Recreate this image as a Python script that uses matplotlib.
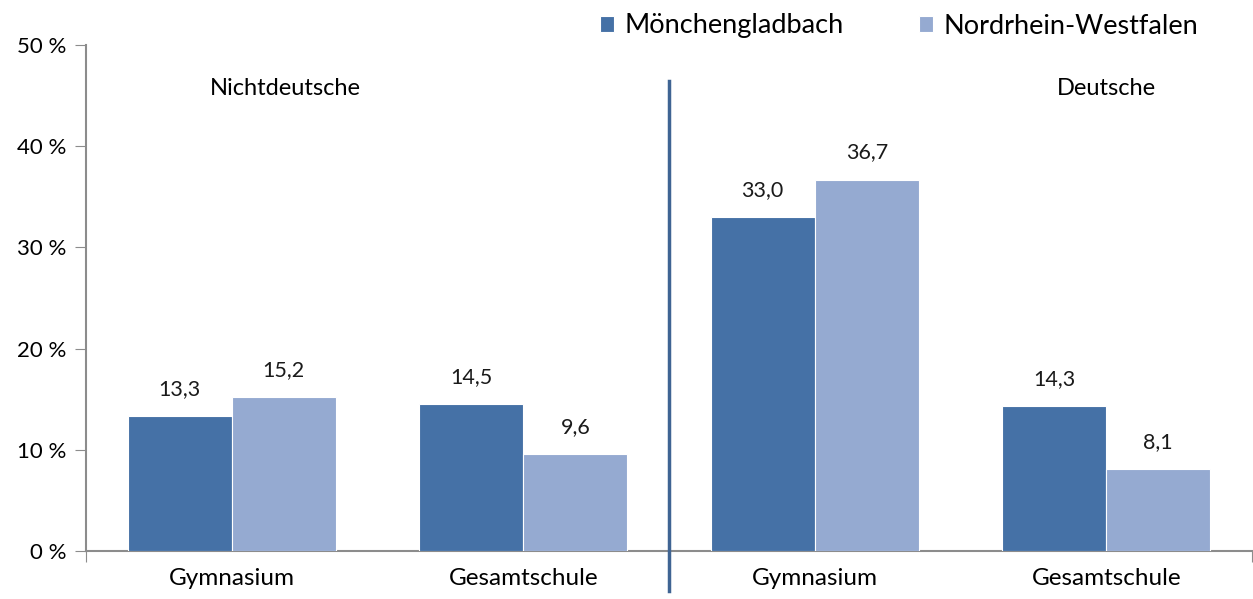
import matplotlib
matplotlib.use("Agg")
import matplotlib.pyplot as plt
import numpy as np

plt.rcParams['font.family'] = ['Lato', 'DejaVu Sans']

categories = ["Gymnasium", "Gesamtschule", "Gymnasium", "Gesamtschule"]
series_names = ["Mönchengladbach", "Nordrhein-Westfalen"]
mg_values = [13.3, 14.5, 33.0, 14.3]
nrw_values = [15.2, 9.6, 36.7, 8.1]
group_labels = ["Nichtdeutsche", "Deutsche"]
yticks = [0, 10, 20, 30, 40, 50]

col_mg = "#4571A6"
col_nrw = "#95AAD1"

fig = plt.figure(figsize=(12.53, 5.99), dpi=100)
ax = fig.add_axes([86/1253, 1-551/599, (1252-86)/1253, (551-45)/599])

x = np.arange(len(categories)) + 0.5
w = 0.357
b1 = ax.bar(x - w/2, mg_values, w, color=col_mg, edgecolor="white", linewidth=0.8, label=series_names[0], zorder=3)
b2 = ax.bar(x + w/2, nrw_values, w, color=col_nrw, edgecolor="white", linewidth=0.8, label=series_names[1], zorder=3)

def fmt(v):
    return f"{v:.1f}".replace(".", ",")

for bars, vals in ((b1, mg_values), (b2, nrw_values)):
    for r, v in zip(bars, vals):
        ax.annotate(fmt(v), (r.get_x() + r.get_width()/2, v), xytext=(0, 19.5), textcoords="offset points",
                    ha="center", va="center", fontsize=15.5, color="#1a1a1a")

ax.set_xlim(0, 4)
ax.set_ylim(0, 50)
ax.set_yticks(yticks)
ax.set_yticklabels([f"{t} %" for t in yticks], fontsize=16)
ax.set_xticks([0, 2, 4])
ax.set_xticklabels([])
ax.set_xticks(x, minor=True)
ax.set_xticklabels(categories, minor=True, fontsize=17.5)
ax.tick_params(axis="x", which="minor", length=0, pad=12)
ax.tick_params(axis="x", which="major", length=8, direction="out", color="#8c8c8c")
ax.tick_params(axis="y", length=8, direction="out", color="#8c8c8c", pad=6)

for s in ("top", "right"):
    ax.spines[s].set_visible(False)
for s in ("left", "bottom"):
    ax.spines[s].set_color("#8c8c8c")
    ax.spines[s].set_linewidth(1.5)

# separator
ax.plot([2, 2], [46.4, -3.95], color="#3F6493", linewidth=2.5, clip_on=False, zorder=5)

ax.text(0.683, 45.75, group_labels[0], ha="center", va="center", fontsize=17)
ax.text(3.5, 45.75, group_labels[1], ha="center", va="center", fontsize=17)

fig.legend(handles=[b1, b2], labels=series_names, loc="center left", bbox_to_anchor=(600/1253, 1-26/599),
           ncol=2, frameon=False, fontsize=19.5, handlelength=0.5, handleheight=0.5, handletextpad=0.4,
           columnspacing=2.8, borderaxespad=0, borderpad=0)

fig.savefig("out.png", dpi=100)
